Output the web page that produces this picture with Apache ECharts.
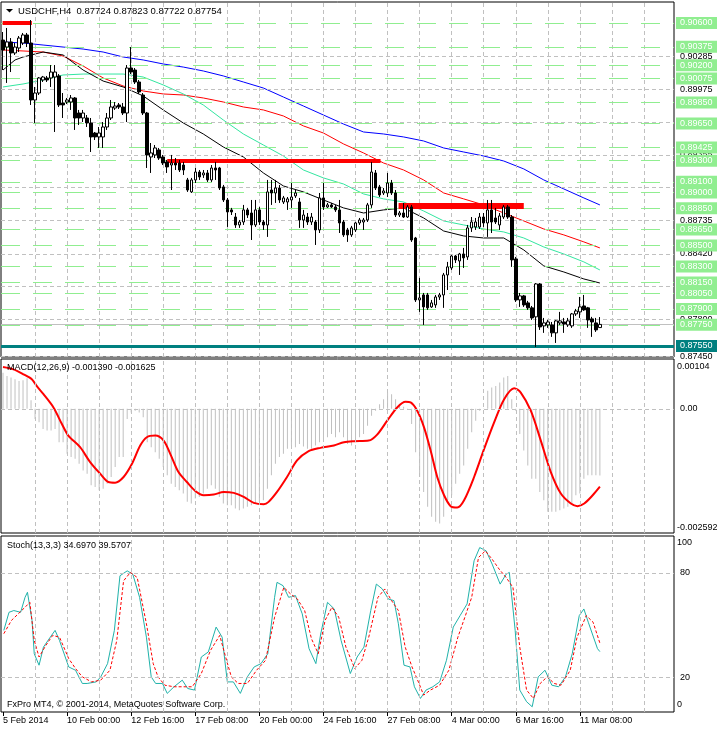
<!DOCTYPE html>
<html><head><meta charset="utf-8">
<script src="https://cdn.jsdelivr.net/npm/echarts@6/dist/echarts.min.js"></script>
<style>html,body{margin:0;padding:0;background:#fff}#c{width:717px;height:730px}</style>
</head><body><div id="c"></div>
<script>
// ---------------- DATA ----------------
const symbolName = 'USDCHF,H4';
const lastQuote = [0.87724, 0.87823, 0.87722, 0.87754];
const macdTitle = 'MACD(12,26,9) -0.001390 -0.001625';
const stochTitle = 'Stoch(13,3,3) 34.6970 39.5707';
const copyright = 'FxPro MT4, \u00A9 2001-2014, MetaQuotes Software Corp.';
const tickLabels = ['5 Feb 2014','10 Feb 00:00','12 Feb 16:00','17 Feb 08:00','20 Feb 00:00','24 Feb 16:00','27 Feb 08:00','4 Mar 00:00','6 Mar 16:00','11 Mar 08:00'];
const slotCount = 168;               // bar slots on the chart (150 bars + empty shift area)
const barsPerLabel = 16;
const gridEveryBars = 8;

// H4 candles: [open, high, low, close]
const ohlc = [
[0.90439,0.90515,0.90156,0.90345],[0.90373,0.90553,0.90034,0.90421],[0.90421,0.90458,0.90137,0.90317],[0.90317,0.90411,0.90298,0.90373],
[0.90364,0.90477,0.90326,0.90458],[0.90411,0.90506,0.90392,0.90487],[0.90487,0.90506,0.90373,0.90411],[0.90411,0.90628,0.89826,0.89873],
[0.89873,0.89996,0.89656,0.89939],[0.89939,0.90090,0.89920,0.90081],[0.90062,0.90100,0.90043,0.90090],[0.90081,0.90100,0.90043,0.90062],
[0.90081,0.90203,0.89996,0.90137],[0.90090,0.90203,0.89571,0.90137],[0.90100,0.90118,0.89807,0.89826],[0.89845,0.89939,0.89703,0.89826],
[0.89854,0.89892,0.89835,0.89873],[0.89854,0.89920,0.89779,0.89892],[0.89892,0.89901,0.89590,0.89703],[0.89750,0.89779,0.89637,0.89703],
[0.89703,0.89779,0.89665,0.89750],[0.89703,0.89731,0.89618,0.89656],[0.89656,0.89703,0.89382,0.89524],[0.89561,0.89571,0.89495,0.89524],
[0.89524,0.89618,0.89420,0.89561],[0.89524,0.89665,0.89420,0.89618],[0.89618,0.89750,0.89590,0.89703],[0.89703,0.89873,0.89684,0.89807],
[0.89797,0.89854,0.89779,0.89816],[0.89826,0.89845,0.89788,0.89807],[0.89807,0.89845,0.89731,0.89750],[0.89750,0.90203,0.89665,0.90175],
[0.90175,0.90373,0.90118,0.90137],[0.90156,0.90175,0.90024,0.90043],[0.90043,0.90062,0.89930,0.89949],[0.89920,0.89939,0.89731,0.89750],
[0.89750,0.89760,0.89231,0.89354],[0.89335,0.89467,0.89184,0.89373],[0.89354,0.89448,0.89325,0.89420],[0.89401,0.89420,0.89307,0.89325],
[0.89335,0.89354,0.89259,0.89278],[0.89288,0.89307,0.89184,0.89241],[0.89259,0.89354,0.89023,0.89278],[0.89278,0.89325,0.89212,0.89259],
[0.89278,0.89307,0.89193,0.89212],[0.89259,0.89288,0.89165,0.89212],[0.89118,0.89137,0.89005,0.89023],[0.89005,0.89137,0.88995,0.89118],
[0.89118,0.89231,0.89089,0.89193],[0.89193,0.89212,0.89118,0.89146],[0.89165,0.89212,0.89137,0.89184],[0.89184,0.89212,0.89099,0.89118],
[0.89118,0.89259,0.89099,0.89231],[0.89231,0.89288,0.89118,0.89212],[0.89231,0.89241,0.89023,0.89042],[0.89052,0.89071,0.88910,0.88929],
[0.88929,0.88948,0.88674,0.88816],[0.88835,0.88854,0.88787,0.88816],[0.88768,0.88806,0.88665,0.88693],[0.88693,0.88740,0.88665,0.88721],
[0.88721,0.88882,0.88693,0.88835],[0.88835,0.88854,0.88759,0.88787],[0.88806,0.88929,0.88551,0.88693],[0.88693,0.88929,0.88674,0.88835],
[0.88835,0.88863,0.88693,0.88721],[0.88721,0.88740,0.88646,0.88693],[0.88693,0.89118,0.88580,0.89005],[0.89023,0.89118,0.88882,0.88995],
[0.88995,0.89118,0.88901,0.89042],[0.89042,0.89071,0.88901,0.88929],[0.88910,0.88967,0.88891,0.88948],[0.88910,0.88957,0.88835,0.88939],
[0.88929,0.89089,0.88854,0.88957],[0.88967,0.89023,0.88948,0.88995],[0.88910,0.88948,0.88665,0.88740],[0.88740,0.88835,0.88665,0.88787],
[0.88768,0.88806,0.88693,0.88721],[0.88721,0.88806,0.88693,0.88768],[0.88721,0.88740,0.88504,0.88646],[0.88646,0.88995,0.88617,0.88948],
[0.88948,0.89089,0.88835,0.88863],[0.88863,0.88901,0.88854,0.88882],[0.88882,0.88901,0.88854,0.88863],[0.88863,0.88882,0.88816,0.88835],
[0.88835,0.88929,0.88617,0.88712],[0.88721,0.88740,0.88580,0.88599],[0.88646,0.88665,0.88533,0.88599],[0.88599,0.88684,0.88580,0.88665],
[0.88646,0.88721,0.88627,0.88712],[0.88712,0.88759,0.88693,0.88740],[0.88721,0.88759,0.88646,0.88740],[0.88740,0.88901,0.88721,0.88882],
[0.88882,0.89288,0.88854,0.89193],[0.89184,0.89212,0.89023,0.89042],[0.89052,0.89071,0.88957,0.88976],[0.88995,0.89042,0.88976,0.89014],
[0.88995,0.89184,0.88957,0.89089],[0.89089,0.89118,0.88976,0.88995],[0.88995,0.89023,0.88768,0.88787],[0.88787,0.88825,0.88768,0.88806],
[0.88806,0.88901,0.88759,0.88768],[0.88768,0.88882,0.88759,0.88863],[0.88863,0.88882,0.88533,0.88551],[0.88570,0.88580,0.87966,0.87985],
[0.87985,0.88193,0.87872,0.88004],[0.88032,0.88051,0.87749,0.87919],[0.88032,0.88051,0.87891,0.87910],[0.87919,0.87985,0.87910,0.87957],
[0.87938,0.88032,0.87910,0.88013],[0.88013,0.88051,0.87985,0.88032],[0.88032,0.88240,0.87910,0.88221],[0.88221,0.88344,0.88079,0.88297],
[0.88287,0.88410,0.88268,0.88400],[0.88400,0.88410,0.88334,0.88363],[0.88353,0.88429,0.88221,0.88419],[0.88419,0.88476,0.88287,0.88382],
[0.88391,0.88693,0.88363,0.88665],[0.88665,0.88768,0.88627,0.88721],[0.88674,0.88759,0.88646,0.88721],[0.88674,0.88806,0.88655,0.88768],
[0.88768,0.88806,0.88674,0.88712],[0.88712,0.88929,0.88580,0.88835],[0.88835,0.88929,0.88617,0.88721],[0.88759,0.88854,0.88702,0.88721],
[0.88693,0.88806,0.88646,0.88778],[0.88768,0.88882,0.88750,0.88863],[0.88863,0.88882,0.88750,0.88768],[0.88768,0.88787,0.88297,0.88363],
[0.88372,0.88391,0.87966,0.87985],[0.87985,0.88051,0.87919,0.88023],[0.88023,0.88032,0.87919,0.87938],[0.87957,0.87976,0.87891,0.87910],
[0.87910,0.87928,0.87796,0.87815],[0.87825,0.88145,0.87541,0.88136],[0.88136,0.88145,0.87702,0.87730],[0.87740,0.87815,0.87674,0.87768],
[0.87749,0.87796,0.87721,0.87777],[0.87749,0.87777,0.87636,0.87674],[0.87674,0.87796,0.87579,0.87787],[0.87768,0.87872,0.87749,0.87787],
[0.87777,0.87815,0.87674,0.87758],[0.87749,0.87815,0.87730,0.87787],[0.87740,0.87862,0.87721,0.87853],[0.87853,0.87900,0.87834,0.87881],
[0.87872,0.88013,0.87815,0.87919],[0.87928,0.88032,0.87882,0.87891],[0.87910,0.87919,0.87721,0.87796],[0.87806,0.87825,0.87636,0.87777],
[0.87768,0.87815,0.87683,0.87702],[0.87724,0.87823,0.87722,0.87754]
];

// moving averages read at bar indices: [barIndex, price]
const maBlue = [[0,0.90421],[5,0.90411],[10,0.90392],[15,0.90373],[20,0.90354],[25,0.90326],[30,0.90279],[35,0.90251],[40,0.90213],[45,0.90184],[50,0.90147],[55,0.90100],[60,0.90043],[65,0.89986],[70,0.89901],[75,0.89816],[80,0.89731],[85,0.89646],[90,0.89571],[95,0.89552],[100,0.89524],[105,0.89486],[110,0.89420],[115,0.89382],[120,0.89344],[125,0.89297],[130,0.89222],[135,0.89118],[140,0.89033],[145,0.88948],[149,0.88882]];
const maRed = [[0,0.90345],[5,0.90336],[10,0.90326],[15,0.90288],[20,0.90194],[25,0.90081],[30,0.90005],[35,0.89958],[40,0.89930],[45,0.89920],[50,0.89892],[55,0.89854],[60,0.89807],[65,0.89779],[70,0.89722],[75,0.89628],[80,0.89561],[85,0.89458],[90,0.89373],[95,0.89278],[100,0.89212],[105,0.89118],[110,0.88995],[115,0.88939],[120,0.88882],[125,0.88806],[130,0.88731],[135,0.88655],[140,0.88599],[145,0.88533],[149,0.88476]];
const maGreen = [[0,0.89996],[5,0.90024],[10,0.90062],[15,0.90109],[20,0.90118],[25,0.90118],[30,0.90118],[35,0.90090],[40,0.90015],[45,0.89930],[50,0.89826],[55,0.89684],[60,0.89552],[65,0.89448],[70,0.89344],[75,0.89212],[80,0.89137],[85,0.89080],[90,0.88986],[95,0.88939],[100,0.88910],[105,0.88825],[110,0.88731],[115,0.88693],[120,0.88655],[125,0.88627],[130,0.88570],[135,0.88485],[140,0.88419],[145,0.88344],[149,0.88268]];
const maBlack = [[0,0.90156],[3,0.90251],[5,0.90279],[10,0.90326],[15,0.90298],[20,0.90156],[25,0.90052],[30,0.89996],[35,0.89911],[40,0.89779],[45,0.89656],[50,0.89552],[55,0.89429],[60,0.89335],[65,0.89184],[70,0.89061],[75,0.89005],[80,0.88929],[85,0.88854],[90,0.88806],[95,0.88835],[100,0.88854],[105,0.88759],[110,0.88636],[115,0.88589],[120,0.88570],[125,0.88570],[130,0.88457],[135,0.88306],[140,0.88249],[145,0.88183],[149,0.88145]];

// horizontal line objects (green) and support (teal), bid line
const greenLevels = [0.906,0.90375,0.902,0.90075,0.8985,0.8965,0.89425,0.893,0.891,0.89,0.8885,0.8865,0.885,0.883,0.8815,0.8805,0.879,0.8775];
const supportLevel = 0.8755;
const bidLevel = 0.87754;
// price scale ticks of the main window
const priceTicks = [0.90285,0.89975,0.89665,0.89355,0.89045,0.88735,0.8842,0.8811,0.878,0.8745];
// red trend segments: [fromBar, toBar, price]
const redSegments = [[-0.1,7.2,0.906],[41,94.25,0.893],[98.75,130,0.88875]];

// MACD histogram (main) per bar
const macdHist = [
0.000755,0.000686,0.000652,0.000617,0.000582,0.000596,0.000638,0.000181,
-0.000213,-0.000282,-0.000421,-0.000455,-0.000455,-0.000421,-0.000697,-0.000697,-0.000939,-0.001008,-0.001043,-0.001147,-0.001285,-0.001354,-0.001596,-0.001631,-0.0017,-0.001666,-0.001562,-0.001423,-0.001216,-0.001008,-0.001008,
-0.000213,-0.000075,-0.00004,-0.000075,-0.000178,
-0.000697,-0.000801,-0.000905,-0.001043,-0.001216,-0.001389,-0.001562,-0.001631,-0.0017,-0.001769,-0.001942,-0.001977,-0.001873,-0.001839,-0.001769,-0.001666,-0.001596,-0.001666,-0.001839,-0.001977,-0.002011,-0.002011,-0.002081,-0.002115,-0.002081,-0.002046,-0.002011,-0.001977,-0.001942,-0.001908,
-0.001666,-0.001389,-0.001147,-0.001008,-0.000939,-0.000836,-0.000766,-0.000801,-0.000732,-0.000787,-0.000836,-0.000836,-0.000766,-0.000697,-0.000628,-0.000593,-0.000524,-0.000593,-0.00049,-0.000593,-0.000732,-0.000766,-0.000663,-0.000593,-0.000524,-0.000351,-0.000144,-0.00004,
0.000098,0.000202,0.00034,0.000306,0.000202,0.000098,0.000043,-0.000026,
-0.000317,-0.000905,-0.001423,-0.001735,-0.002046,-0.002254,-0.002357,-0.002392,-0.002254,-0.001908,-0.001804,-0.001562,-0.001354,-0.001181,-0.000836,-0.00049,-0.000248,-0.00004,-0.000006,
0.000375,0.000444,0.000479,0.000548,0.000652,0.000686,
0.000202,-0.00004,-0.000524,-0.00087,-0.001181,-0.001458,-0.001458,-0.001735,-0.001908,-0.00215,-0.00215,-0.00215,-0.002115,-0.002081,-0.002046,-0.001977,-0.001804,-0.001769,-0.001458,-0.001389,-0.001389,-0.001389,-0.00139
];
// MACD signal, read at bar positions
const macdSignal = [[0,0.000873],[2.6,0.000824],[5.1,0.000721],[7.2,0.000617],[8.4,0.000479],[10.1,0.000306],[12.6,0.000029],[14.7,-0.000317],[16.3,-0.000559],[19.25,-0.000801],[21.75,-0.001112],[24.25,-0.001354],[26.3,-0.001527],[28,-0.001541],[30.1,-0.001423],[32.2,-0.001147],[34.25,-0.000766],[35.9,-0.000593],[38,-0.000559],[40.1,-0.000663],[41.75,-0.000939],[43.8,-0.00132],[45.9,-0.001527],[48,-0.001714],[50.1,-0.001804],[52.6,-0.00179],[55.1,-0.001735],[57.6,-0.001755],[60.1,-0.001839],[62.6,-0.001963],[65.1,-0.001991],[66.3,-0.001942],[68.4,-0.001735],[70.9,-0.001423],[73.4,-0.001078],[76.3,-0.000884],[79.25,-0.000815],[82.6,-0.000766],[85.1,-0.000697],[87.6,-0.000676],[91.3,-0.000663],[93.4,-0.000538],[95.9,-0.000248],[98.4,0.000029],[100.5,0.000147],[101.75,0.000133],[103.4,-0.00004],[105.1,-0.000386],[106.75,-0.00087],[108.4,-0.001423],[110.1,-0.001804],[111.75,-0.002032],[113.4,-0.00206],[115.1,-0.001908],[117.6,-0.001423],[120.1,-0.000836],[122.6,-0.000282],[125.1,0.000202],[127.6,0.00043],[129.25,0.00034],[131.75,-0.00004],[134.25,-0.000663],[136.75,-0.00132],[139.25,-0.001769],[141.75,-0.001977],[143.4,-0.002032],[145.1,-0.001977],[147.2,-0.001804],[149,-0.001625]];
const macdMax = 0.00104, macdMin = -0.002592;

// Stochastic main and signal, read at bar positions
const stochMain = [[0.2,46.9],[1.5,57.3],[2.7,58.3],[4.4,57.3],[5.5,65.9],[6.1,68.8],[7.25,52.6],[7.8,33.5],[9,26.9],[10.1,37.3],[11.8,43],[13,46.9],[14.1,41.1],[16.4,25.9],[18.1,24],[19.8,16.4],[21,16.4],[23.25,17.3],[24.4,20.2],[26.1,27.8],[27.8,46.9],[29.2,78.3],[31,81.1],[32.4,79.2],[34.1,65.9],[35.8,43],[37,20.2],[38.1,16.4],[39.8,16.4],[41,10.7],[42.7,14.5],[44.75,18.3],[46.1,13.5],[47.8,12.6],[49.5,31.6],[51.25,34.5],[53.2,48.8],[54.7,43],[56,17.3],[57.5,17.3],[59.25,10.7],[61,20.2],[62.7,25.9],[64.4,27.8],[66.1,33.5],[67.8,65.9],[68.4,74.5],[69.9,72.6],[71.3,65.9],[73,66.9],[74.7,56.4],[76.4,36.4],[78.1,27.8],[79.3,44.8],[81,63],[82.7,59.2],[84.4,41.1],[86.7,22.1],[88.4,31.6],[90.1,37.3],[91.8,58.3],[93.2,73.5],[94.7,70.7],[96.2,64.9],[97.6,64],[98.7,50.7],[100.1,26.9],[101.6,25.9],[102.7,14.5],[104.2,7.8],[105.6,12.6],[107.3,14.5],[109,17.3],[110.7,29.7],[112.4,48.8],[114.1,55.4],[115.85,62.1],[117.6,86.9],[119,94.5],[120.6,92.6],[122.1,85],[124.1,73.5],[125.6,79.2],[126.4,80.2],[127.85,46.9],[129,12.6],[130.7,5.9],[132.1,3],[133.6,20.2],[135.3,24],[137,15.4],[138.7,14.5],[140.4,20.2],[142.1,33.5],[143.85,55.4],[145,59.2],[146.1,51.6],[148.4,36.4],[149,34.697]];
const stochSignal = [[0.2,45],[2.1,52.6],[3.8,56.4],[5.5,60.2],[6.7,63],[7.8,41.1],[9,31.6],[10.7,38.3],[12.4,44],[14.1,43],[16.4,30.7],[18.1,25],[19.8,20.2],[22.1,17.3],[24.4,18.3],[26.7,24],[28.4,41.1],[30.1,75.4],[31.8,80.2],[33.5,77.3],[35.8,50.7],[37.5,27.8],[38.7,20.2],[40.4,15.4],[42.7,14.5],[45,14.5],[47.25,14.5],[49.5,22.1],[51.8,35.4],[54.1,44],[55.8,29.7],[57,20.2],[58.7,16.4],[61,16.4],[63.3,24],[65.55,29.7],[67.8,54.5],[70.1,71.6],[71.8,67.8],[73.5,64.9],[75.3,58.3],[77,42.1],[78.7,33.5],[80.4,52.6],[82.1,60.2],[83.8,54.5],[85.6,37.3],[87.8,25],[89.6,29.7],[91.3,43],[93.6,65.9],[95.3,70.7],[97,64],[98.7,58.3],[100.4,37.3],[102.1,25.9],[103.85,16.4],[105,9.7],[106.7,12.6],[109,15.4],[111.3,24],[113.55,43],[115.3,54.5],[117,65.9],[118.7,88.8],[120.4,92.6],[122.1,87.8],[123.85,82.1],[125.6,77.3],[127.3,71.6],[129,37.3],[130.7,12.6],[132.4,7.8],[134.1,16.4],[135.85,20.2],[137.6,16.4],[139.3,15.4],[141.6,24],[143.3,43],[145.6,55.4],[147.3,51.6],[149,39.5707]];
const stochLevels = [80, 20];

// ---------------- CHART ----------------
const FONT = '"Liberation Sans", Arial, sans-serif';
const categories = Array.from({length: slotCount}, (_, i) => String(i));
const vGridBars = [];
for (let b = gridEveryBars; b <= 160; b += gridEveryBars) vGridBars.push(b);

const PRICE_MAX = 0.907983, PRICE_MIN = 0.874461;
const STOCH_MAX = 101.14;
const GRID_GREY = '#C0C0C0';

const noLabel = {show: false};
const baseMarkLine = (data, z) => ({
  symbol: ['none','none'], silent: true, animation: false, precision: 6,
  label: noLabel, data: data
});
const vLineItems = vGridBars.map(b => ({xAxis: b, lineStyle: {color: GRID_GREY, type: [4,3], width: 1}}));
const tickLabelStyle = (text) => ({show: true, position: 'end', distance: 2, formatter: text,
  color: '#000', fontSize: 9, fontFamily: FONT, padding: [0,0,0,4]});

const helper = (xi, yi, items, z) => ({
  type: 'line', xAxisIndex: xi, yAxisIndex: yi, data: [], z: z, clip: false,
  silent: true, animation: false, markLine: baseMarkLine(items)
});

const mainGridItems = vLineItems.concat(priceTicks.map(v => ({
  yAxis: v, lineStyle: {color: GRID_GREY, type: [4,3], width: 1},
  label: tickLabelStyle(v.toFixed(5))
})));

const greenItems = greenLevels.map(v => ({
  yAxis: v, lineStyle: {color: '#90EE90', type: [19,13], width: 1},
  label: {show: true, position: 'end', distance: 2, formatter: v.toFixed(5), color: '#fff',
    backgroundColor: '#90EE90', padding: [1,6,0,4], fontSize: 9, fontFamily: FONT, lineHeight: 11}
}));
greenItems.push({yAxis: bidLevel, lineStyle: {color: '#C0C0C0', type: 'solid', width: 1}, label: noLabel});
greenItems.push({yAxis: supportLevel, lineStyle: {color: '#008080', type: 'solid', width: 3},
  label: {show: true, position: 'end', distance: 2, formatter: supportLevel.toFixed(5), color: '#fff',
    backgroundColor: '#008080', padding: [1,6,0,4], fontSize: 9, fontFamily: FONT, lineHeight: 11}});

const redWidths = [4, 4, 6];
const redItems = redSegments.map((s, k) => [
  {coord: [s[0], s[2]], lineStyle: {color: '#FF0000', width: redWidths[k], type: 'solid'}},
  {coord: [s[1], s[2]]}
]);

const macdGridItems = vLineItems.concat([{yAxis: 0, lineStyle: {color: GRID_GREY, type: [4,3], width: 1},
  label: tickLabelStyle('0.00')}]);
const stochGridItems = vLineItems.concat(stochLevels.map(v => ({yAxis: v,
  lineStyle: {color: GRID_GREY, type: [4,3], width: 1}, label: tickLabelStyle(String(v))})));

const maLine = (data, color) => ({type: 'line', xAxisIndex: 1, yAxisIndex: 0, data: data, showSymbol: false,
  symbol: 'none', lineStyle: {color: color, width: 1}, z: 3, animation: false, silent: true});

const labelInterval = (i) => i % barsPerLabel === 0 && i / barsPerLabel < tickLabels.length;

const hiddenCat = (g) => ({type: 'category', gridIndex: g, data: categories, boundaryGap: true,
  axisLine: {show: false}, axisTick: {show: false}, axisLabel: {show: false}, splitLine: {show: false}});
const hiddenVal = (g) => ({type: 'value', gridIndex: g, min: -0.5, max: slotCount - 0.5, show: false,
  splitLine: {show: false}});
const hiddenY = (g, mn, mx) => ({type: 'value', gridIndex: g, min: mn, max: mx, position: 'right',
  axisLine: {show: false}, axisTick: {show: false}, axisLabel: {show: false}, splitLine: {show: false}});

const bottomCat = hiddenCat(2);
bottomCat.axisTick = {show: true, interval: labelInterval, alignWithLabel: true, length: 4, lineStyle: {color: '#000'}};
bottomCat.axisLabel = {show: true, interval: labelInterval, formatter: (v, i) => tickLabels[i / barsPerLabel] || '',
  align: 'left', margin: 4, fontSize: 9, fontFamily: FONT, color: '#000'};

const txt = (x, y, text, size) => ({type: 'text', x: x, y: y, silent: true, z: 100,
  style: {text: text, fill: '#000', fontSize: size || 9, fontFamily: FONT, verticalAlign: 'middle'}});

const option = {
  animation: false,
  backgroundColor: '#fff',
  grid: [
    {left: 1, top: 2, width: 673, height: 355, show: true, borderColor: '#000', borderWidth: 1},
    {left: 1, top: 359, width: 673, height: 174, show: true, borderColor: '#000', borderWidth: 1},
    {left: 1, top: 536, width: 673, height: 176, show: true, borderColor: '#000', borderWidth: 1}
  ],
  xAxis: [hiddenCat(0), hiddenVal(0), hiddenCat(1), hiddenVal(1), bottomCat, hiddenVal(2)],
  yAxis: [hiddenY(0, PRICE_MIN, PRICE_MAX), hiddenY(1, macdMin, macdMax), hiddenY(2, 0, STOCH_MAX)],
  series: [
    helper(1, 0, mainGridItems, 1),
    helper(1, 0, greenItems, 2),
    maLine(maBlue, '#0000FF'),
    maLine(maRed, '#FF0000'),
    maLine(maGreen, '#33E6A0'),
    maLine(maBlack, '#000000'),
    helper(1, 0, redItems, 4),
    {type: 'candlestick', xAxisIndex: 0, yAxisIndex: 0, z: 5, animation: false, silent: true,
      barWidth: 3,
      data: ohlc.map(r => [r[0], r[3], r[2], r[1]]),
      itemStyle: {color: '#FFFFFF', color0: '#000000', borderColor: '#000000', borderColor0: '#000000',
        borderColorDoji: '#000000', borderWidth: 1}},
    helper(3, 1, macdGridItems, 1),
    {type: 'bar', xAxisIndex: 2, yAxisIndex: 1, data: macdHist, barWidth: 1, z: 2, silent: true,
      itemStyle: {color: '#C0C0C0'}, animation: false},
    {type: 'line', xAxisIndex: 3, yAxisIndex: 1, data: macdSignal, showSymbol: false, symbol: 'none', smooth: 0.3,
      lineStyle: {color: '#FF0000', width: 2}, z: 3, silent: true},
    helper(5, 2, stochGridItems, 1),
    {type: 'line', xAxisIndex: 5, yAxisIndex: 2, data: stochMain, showSymbol: false, symbol: 'none',
      lineStyle: {color: '#20B2AA', width: 1}, z: 3, silent: true},
    {type: 'line', xAxisIndex: 5, yAxisIndex: 2, data: stochSignal, showSymbol: false, symbol: 'none',
      lineStyle: {color: '#FF0000', width: 1, type: [3,2]}, z: 3, silent: true}
  ],
  graphic: [
    {type: 'polygon', silent: true, z: 100, shape: {points: [[6,9],[13,9],[9.5,12.5]]}, style: {fill: '#000'}},
    txt(18, 11, symbolName + '  ' + lastQuote.map(v => v.toFixed(5)).join(' '), 9.5),
    txt(7, 368, macdTitle),
    txt(7, 546, stochTitle),
    txt(7, 705, copyright),
    txt(677, 367, macdMax.toFixed(5)),
    txt(677, 528, macdMin.toFixed(6)),
    txt(677, 543, '100'),
    txt(677, 705, '0')
  ]
};
const chart = echarts.init(document.getElementById('c'), null, {renderer: 'canvas'});
chart.setOption(option);
</script></body></html>
